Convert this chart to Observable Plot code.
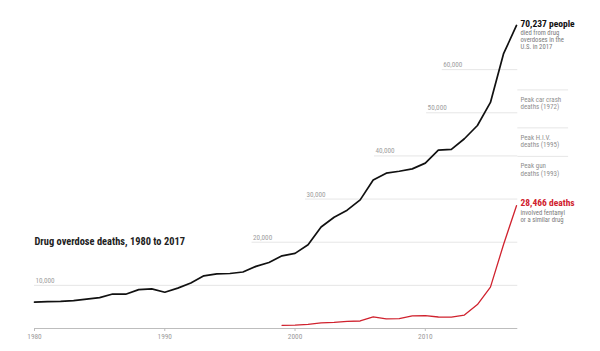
<!DOCTYPE html>
<html>
<head>
<meta charset="utf-8">
<script src="https://cdn.jsdelivr.net/npm/d3@7"></script>
<script src="https://cdn.jsdelivr.net/npm/@observablehq/plot@0.6"></script>
<style>
  html, body { margin: 0; padding: 0; background: #fff; }
  #chart svg { display: block; }
</style>
</head>
<body>
<div id="chart"></div>
<script>
// ---- Data ----
const totalYears = [1980,1981,1982,1983,1984,1985,1986,1987,1988,1989,1990,1991,1992,1993,1994,1995,1996,1997,1998,1999,2000,2001,2002,2003,2004,2005,2006,2007,2008,2009,2010,2011,2012,2013,2014,2015,2016,2017];
const totalDeaths = [6100,6250,6300,6450,6800,7150,8000,7950,9000,9200,8400,9350,10550,12200,12650,12750,13100,14400,15300,16849,17415,19394,23518,25785,27424,29813,34425,36010,36450,37004,38329,41340,41502,43982,47055,52404,63632,70237];

const fentYears = [1999,2000,2001,2002,2003,2004,2005,2006,2007,2008,2009,2010,2011,2012,2013,2014,2015,2016,2017];
const fentDeaths = [730,782,957,1295,1400,1664,1742,2707,2213,2306,2946,3007,2666,2628,3105,5544,9580,19413,28466];

const gridValues = [10000,20000,30000,40000,50000,60000];
const gridLabels = ["10,000","20,000","30,000","40,000","50,000","60,000"];
const gridStartYears = [1980,1996.7,2000.8,2006.1,2010.1,2011.3];

const xTicks = [1980,1990,2000,2010];

const peakValues = [55300,46500,39900];
const peakLabels = ["Peak car crash\ndeaths (1972)","Peak H.I.V.\ndeaths (1995)","Peak gun\ndeaths (1993)"];

const title = "Drug overdose deaths, 1980 to 2017";
const totalHead = "70,237 people";
const totalNote = "died from drug\noverdoses in the\nU.S. in 2017";
const fentHead = "28,466 deaths";
const fentNote = "involved fentanyl\nor a similar drug";

// ---- Tables ----
const total = totalYears.map((y, i) => ({year: y, deaths: totalDeaths[i]}));
const fent = fentYears.map((y, i) => ({year: y, deaths: fentDeaths[i]}));
const grid = gridValues.map((v, i) => ({v, label: gridLabels[i], start: gridStartYears[i]}));
const peaks = peakValues.map((v, i) => ({v, label: peakLabels[i]}));

const lastYear = totalYears[totalYears.length - 1];
const FONT = "'Liberation Sans Narrow', 'Roboto Condensed', 'Liberation Sans', Arial, sans-serif";
const RED = "#d0222e";

const chart = Plot.plot({
  width: 600,
  height: 351,
  marginLeft: 34,
  marginRight: 84,
  marginTop: 26,
  marginBottom: 23,
  style: {fontFamily: FONT, background: "#fff", overflow: "visible"},
  x: {domain: [1980, 2017], axis: null},
  y: {domain: [0, 70000], axis: null},
  marks: [
    // gridlines
    Plot.ruleY(grid, {y: "v", x1: "start", x2: lastYear + 0.1, stroke: "#e6e6e6", strokeWidth: 1}),
    Plot.text(grid, {x: "start", y: "v", text: "label", textAnchor: "start", dx: 1, dy: -4.8, fontSize: 7.2, fill: "#a0a0a0"}),
    // peak reference lines on the right
    Plot.ruleY(peaks, {y: "v", x1: lastYear + 0.1, x2: lastYear + 4, stroke: "#e6e6e6", strokeWidth: 1}),
    Plot.text(peaks, {x: lastYear, y: "v", text: "label", textAnchor: "start", lineAnchor: "top", dx: 4, dy: 6.3, fontSize: 7, lineHeight: 1.08, fill: "#8f8f8f"}),
    // x axis
    Plot.ruleY([0], {x1: 1980, x2: lastYear + 0.1, stroke: "#bdbdbd", strokeWidth: 1}),
    Plot.axisX(xTicks, {tickSize: 3, tickPadding: 2, tickFormat: d => String(d), fontSize: 7.3, stroke: "#bdbdbd", color: "#9a9a9a"}),
    // lines
    Plot.line(fent, {x: "year", y: "deaths", stroke: RED, strokeWidth: 1.3}),
    Plot.line(total, {x: "year", y: "deaths", stroke: "#111", strokeWidth: 1.7}),
    // title
    Plot.text([title], {x: 1980, y: 20200, text: d => d, textAnchor: "start", fontSize: 10.4, fontWeight: "bold", fill: "#222"}),
    // end annotations
    Plot.text([totalHead], {x: lastYear, y: 70237, text: d => d, textAnchor: "start", dx: 4, dy: -1.8, fontSize: 9.5, fontWeight: "bold", fill: "#111"}),
    Plot.text([totalNote], {x: lastYear, y: 70237, text: d => d, textAnchor: "start", lineAnchor: "top", dx: 4, dy: 4.3, fontSize: 6.7, lineHeight: 1.08, fill: "#7a7a7a"}),
    Plot.text([fentHead], {x: lastYear, y: 28466, text: d => d, textAnchor: "start", dx: 4, dy: -3.2, fontSize: 9.5, fontWeight: "bold", fill: RED}),
    Plot.text([fentNote], {x: lastYear, y: 28466, text: d => d, textAnchor: "start", lineAnchor: "top", dx: 4, dy: 3.8, fontSize: 6.7, lineHeight: 1.08, fill: "#7a7a7a"})
  ]
});
document.getElementById("chart").appendChild(chart);
</script>
</body>
</html>
